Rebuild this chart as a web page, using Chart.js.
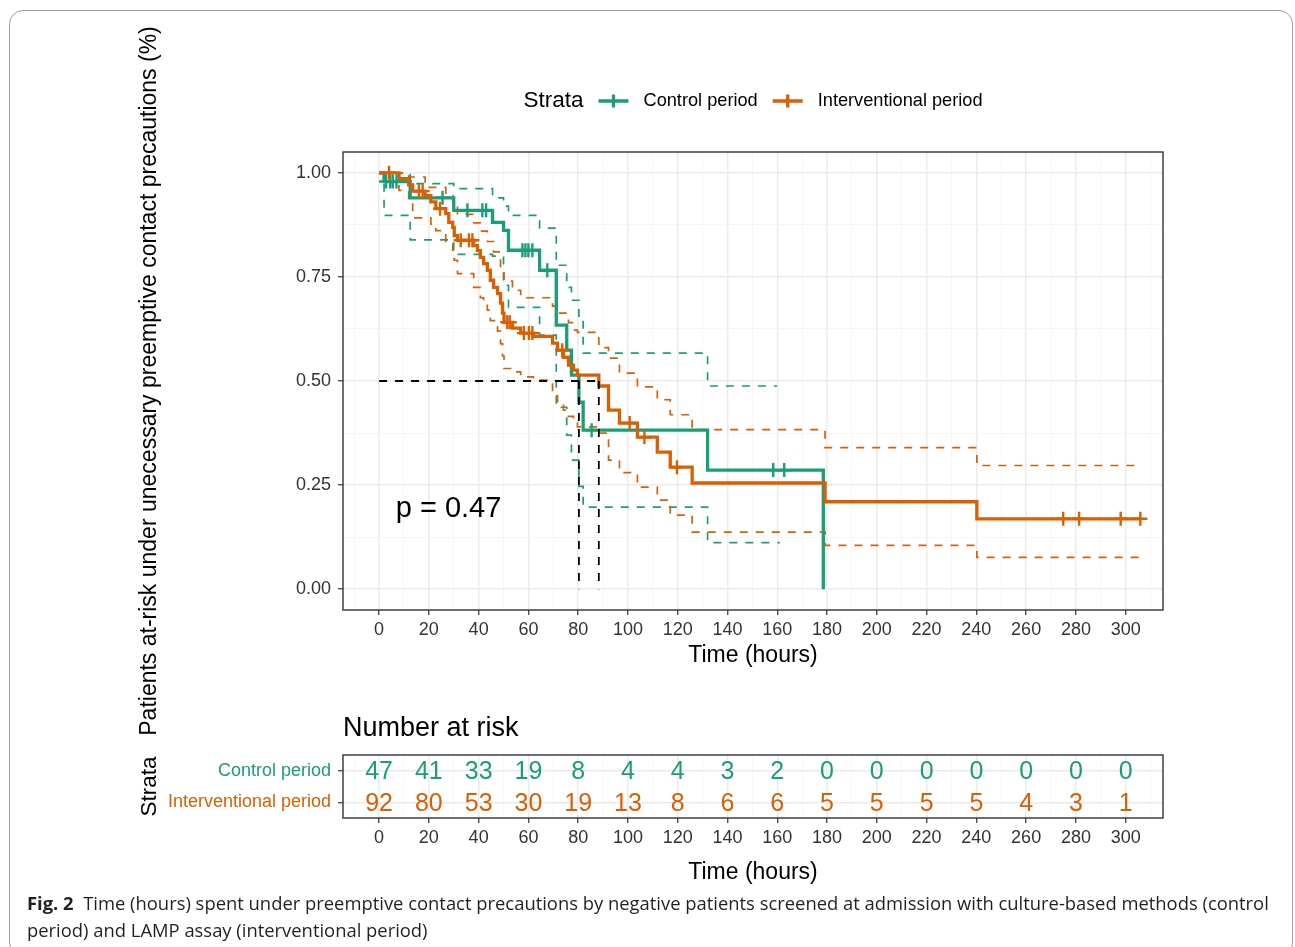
<!DOCTYPE html>
<html>
<head>
<meta charset="utf-8">
<title>Fig. 2</title>
<script src="https://cdn.jsdelivr.net/npm/chart.js@4.4.1/dist/chart.umd.min.js"></script>
<style>
  body { margin: 0; width: 1295px; height: 947px; overflow: hidden; background: #fff; position: relative; }
  #frame { position: absolute; left: 9px; top: 10px; width: 1282px; height: 945px; border: 1px solid #9d9d9d; border-radius: 14px; }
  #km { position: absolute; left: 0; top: 0; }
  #risk { position: absolute; left: 0; top: 690px; }
  #caption { position: absolute; left: 27px; top: 889px; font-family: "Open Sans", "Noto Sans", sans-serif; font-size: 18.4px; line-height: 27px; color: #231f20; white-space: nowrap; }
  #caption b { font-weight: 700; }
</style>
</head>
<body>
<div id="frame"></div>
<canvas id="km" width="1295" height="760"></canvas>
<canvas id="risk" width="1295" height="200"></canvas>
<div id="caption"><span id="cap1"><b>Fig. 2</b>&nbsp; Time (hours) spent under preemptive contact precautions by negative patients screened at admission with culture-based methods (control</span><br><span id="cap2">period) and LAMP assay (interventional period)</span></div>

<script>
// --- DATA ---
const strata = ['Control period', 'Interventional period'];
const strataColors = ['#1B9E77', '#D95F02'];

// Control period: Kaplan-Meier steps (time in hours, survival)
const ctrlTime = [0, 2.0, 12.5, 30, 45.6, 50, 52, 64.5, 71.2, 75.4, 77.3, 80.3, 82, 132, 178.5];
const ctrlSurv = [1, 0.979, 0.94, 0.910, 0.881, 0.862, 0.814, 0.766, 0.634, 0.574, 0.514, 0.449, 0.382, 0.286, 0];
const ctrlUpTime = [0, 12.5, 30, 45.6, 50, 52, 64.5, 71.2, 75.4, 77.3, 80.3, 82, 132, 160];
const ctrlUp = [1, 0.974, 0.962, 0.94, 0.92, 0.898, 0.867, 0.778, 0.725, 0.694, 0.653, 0.567, 0.488, 0.488];
const ctrlLoTime = [0, 2.0, 12.5, 30, 45.6, 50, 52, 64.5, 71.2, 75.4, 77.3, 80.3, 82, 132, 161];
const ctrlLo = [1, 0.898, 0.839, 0.804, 0.80, 0.73, 0.677, 0.61, 0.437, 0.37, 0.31, 0.247, 0.197, 0.112, 0.112];
const ctrlCensTime = [2.8, 4.5, 5.5, 7, 25.5, 35.5, 41.5, 43, 57.6, 58.8, 60, 61.6, 67.6, 85.4, 158.4, 162.8];
const ctrlCensSurv = [0.979, 0.979, 0.979, 0.979, 0.94, 0.910, 0.910, 0.910, 0.814, 0.814, 0.814, 0.814, 0.766, 0.382, 0.286, 0.286];

// Interventional period
const intvTime = [0, 8, 11.9, 13.5, 18.5, 20.8, 22.8, 26.8, 28, 29.6, 30.2, 31.5, 38, 39.5, 40.7, 42, 43.5, 44.7, 46, 47.6, 48.8, 49.6, 50.2, 53.6, 56.9, 62, 69.7, 71.7, 74.1, 76.1, 78.1, 79.7, 88.3, 92.2, 96.6, 103.8, 111.8, 117, 125.8, 179.2, 240.2, 305.9];
const intvSurv = [1, 0.986, 0.971, 0.956, 0.945, 0.930, 0.914, 0.902, 0.881, 0.869, 0.849, 0.838, 0.825, 0.813, 0.797, 0.782, 0.766, 0.742, 0.725, 0.710, 0.687, 0.663, 0.641, 0.627, 0.615, 0.607, 0.591, 0.574, 0.557, 0.538, 0.526, 0.514, 0.488, 0.430, 0.399, 0.365, 0.329, 0.293, 0.255, 0.210, 0.169, 0.169];
const intvUpTime = [0, 11.9, 18.5, 26.8, 29.6, 31.5, 38, 40.7, 43.5, 46, 48.8, 50.2, 53.6, 56.9, 69.7, 71.7, 76.1, 78.1, 79.7, 88.3, 92.2, 96.6, 103.8, 111.8, 117, 125.8, 179.2, 240.2, 305.9];
const intvUp = [1, 0.99, 0.965, 0.945, 0.92, 0.90, 0.88, 0.86, 0.835, 0.81, 0.77, 0.74, 0.718, 0.70, 0.68, 0.663, 0.64, 0.622, 0.617, 0.58, 0.555, 0.519, 0.486, 0.455, 0.419, 0.383, 0.34, 0.297, 0.297];
const intvLoTime = [0, 8, 11.9, 13.5, 20.8, 22.8, 26.8, 29.6, 30.2, 31.5, 38, 40.7, 42, 43.5, 44.7, 47.6, 48.8, 49.6, 50.2, 53.6, 56.9, 62, 69.7, 71.7, 74.1, 76.1, 78.1, 79.7, 88.3, 92.2, 96.6, 103.8, 111.8, 117, 125.8, 179.2, 240.2, 305.9];
const intvLo = [1, 0.958, 0.933, 0.892, 0.877, 0.861, 0.835, 0.81, 0.79, 0.758, 0.725, 0.70, 0.69, 0.67, 0.645, 0.62, 0.59, 0.56, 0.53, 0.522, 0.51, 0.502, 0.465, 0.445, 0.43, 0.415, 0.40, 0.39, 0.375, 0.31, 0.28, 0.245, 0.214, 0.178, 0.137, 0.105, 0.0766, 0.0766];
const intvCensTime = [4, 16, 17.5, 24.5, 32.8, 36.1, 37.5, 51.5, 52.5, 58.2, 60.2, 61.6, 73.6, 100.7, 106.6, 119.7, 274.9, 281.3, 298, 305.9];
const intvCensSurv = [1, 0.956, 0.956, 0.914, 0.838, 0.838, 0.838, 0.641, 0.641, 0.615, 0.615, 0.615, 0.574, 0.399, 0.365, 0.293, 0.169, 0.169, 0.169, 0.169];

// median survival times (control, interventional)
const medianTimes = [80.3, 88.3];
const pValueLabel = 'p = 0.47';

// number at risk table
const riskTimes = [0, 20, 40, 60, 80, 100, 120, 140, 160, 180, 200, 220, 240, 260, 280, 300];
const ctrlRisk = [47, 41, 33, 19, 8, 4, 4, 3, 2, 0, 0, 0, 0, 0, 0, 0];
const intvRisk = [92, 80, 53, 30, 19, 13, 8, 6, 6, 5, 5, 5, 5, 4, 3, 1];

// axis ticks
const timeTicks = [0, 20, 40, 60, 80, 100, 120, 140, 160, 180, 200, 220, 240, 260, 280, 300];
const timeGrid = [-10, 0, 10, 20, 30, 40, 50, 60, 70, 80, 90, 100, 110, 120, 130, 140, 150, 160, 170, 180, 190, 200, 210, 220, 230, 240, 250, 260, 270, 280, 290, 300, 310];
const survTicks = [0, 0.25, 0.5, 0.75, 1];
const survGrid = [0, 0.125, 0.25, 0.375, 0.5, 0.625, 0.75, 0.875, 1];

// --- STYLE ---
const FONT = '"Liberation Sans", Arial, Helvetica, sans-serif';
Chart.defaults.font.family = FONT;
Chart.defaults.color = '#333';

const pts = (t, s) => t.map((v, i) => ({ x: v, y: s[i] }));

function stepSet(t, s, color, width, dash, order) {
    return {
        data: pts(t, s), borderColor: color, borderWidth: width, borderDash: dash,
        stepped: 'before', pointRadius: 0, fill: false, order: order
    };
}
function censorSet(t, s, color, order) {
    return {
        data: pts(t, s), showLine: false, pointStyle: 'cross', pointRadius: 7,
        pointBorderWidth: 2.4, pointBorderColor: color, pointBackgroundColor: color, order: order
    };
}
function plainSet(data, order) {
    return { data: data, borderColor: '#000', borderWidth: 1.8, borderDash: [8, 8], pointRadius: 0, fill: false, order: order };
}

const isMajorTime = v => timeTicks.includes(v);

function timeAxis(titlePad, height) {
    return {
        type: 'linear', min: -14.5, max: 315,
        afterBuildTicks: s => { s.ticks = timeGrid.map(v => ({ value: v })); },
        afterFit: s => { s.height = height; },
        ticks: {
            autoSkip: false, maxRotation: 0, minRotation: 0, padding: 4, color: '#333',
            font: { size: 18 }, callback: v => isMajorTime(v) ? String(v) : ''
        },
        grid: {
            color: c => (c.tick && isMajorTime(c.tick.value)) ? '#EBEBEB' : '#F4F4F4',
            lineWidth: c => (c.tick && isMajorTime(c.tick.value)) ? 1.5 : 0.8,
            tickLength: 5, tickWidth: 1.2,
            tickColor: c => (c.tick && isMajorTime(c.tick.value)) ? '#333' : 'rgba(0,0,0,0)'
        },
        border: { display: false },
        title: { display: true, text: 'Time (hours)', color: '#000', font: { size: 23 }, padding: { top: 0, bottom: titlePad } }
    };
}

function drawPanelBorder(chart) {
    const { ctx, chartArea: a } = chart;
    ctx.save();
    ctx.strokeStyle = '#333';
    ctx.lineWidth = 1.4;
    ctx.strokeRect(a.left, a.top, a.right - a.left, a.bottom - a.top);
    ctx.restore();
}

function drawVerticalTitle(ctx, text, x, y, size) {
    ctx.save();
    ctx.translate(x, y);
    ctx.rotate(-Math.PI / 2);
    ctx.font = size + 'px ' + FONT;
    ctx.fillStyle = '#000';
    ctx.textAlign = 'center';
    ctx.textBaseline = 'middle';
    ctx.fillText(text, 0, 0);
    ctx.restore();
}

// --- KM PLOT ---
const kmDecor = {
    id: 'kmDecor',
    afterDraw(chart) {
        const { ctx, chartArea: a, scales } = chart;
        drawPanelBorder(chart);

        drawVerticalTitle(ctx, 'Patients at-risk under unecessary preemptive contact precautions (%)',
            a.left - 193, (a.top + a.bottom) / 2, 23);

        // p value
        ctx.save();
        ctx.font = '29px ' + FONT;
        ctx.fillStyle = '#000';
        ctx.textAlign = 'left';
        ctx.textBaseline = 'middle';
        ctx.fillText(pValueLabel, scales.x.getPixelForValue(6.7), scales.y.getPixelForValue(0.193));
        ctx.restore();

        // legend, centred over the panel
        ctx.save();
        const ly = 101, keyW = 30, gap = 15;
        ctx.font = '22.5px ' + FONT;
        const wTitle = ctx.measureText('Strata').width;
        ctx.font = '18.2px ' + FONT;
        const wItems = strata.map(s => ctx.measureText(s).width);
        const total = wTitle + strata.length * (gap + keyW + gap) + wItems.reduce((p, c) => p + c, 0);
        let x = (a.left + a.right) / 2 - total / 2;
        ctx.textBaseline = 'middle';
        ctx.fillStyle = '#000';
        ctx.font = '22.5px ' + FONT;
        ctx.fillText('Strata', x, ly);
        x += wTitle + gap;
        strata.forEach((s, i) => {
            ctx.strokeStyle = strataColors[i];
            ctx.lineWidth = 3.3;
            ctx.beginPath();
            ctx.moveTo(x, ly); ctx.lineTo(x + keyW, ly);
            ctx.moveTo(x + keyW / 2, ly - 6.5); ctx.lineTo(x + keyW / 2, ly + 6.5);
            ctx.stroke();
            x += keyW + gap;
            ctx.font = '18.2px ' + FONT;
            ctx.fillStyle = '#000';
            ctx.fillText(s, x, ly);
            x += wItems[i] + gap;
        });
        ctx.restore();
    }
};

const medianLevel = 0.5;
const kmChart = new Chart(document.getElementById('km'), {
    type: 'line',
    data: {
        datasets: [
            stepSet(ctrlLoTime, ctrlLo, strataColors[0], 1.7, [8, 8], 20),
            stepSet(ctrlUpTime, ctrlUp, strataColors[0], 1.7, [8, 8], 19),
            stepSet(intvLoTime, intvLo, strataColors[1], 1.7, [8, 8], 18),
            stepSet(intvUpTime, intvUp, strataColors[1], 1.7, [8, 8], 17),
            stepSet(ctrlTime, ctrlSurv, strataColors[0], 3.3, [], 12),
            stepSet(intvTime, intvSurv, strataColors[1], 3.3, [], 11),
            censorSet(ctrlCensTime, ctrlCensSurv, strataColors[0], 10),
            censorSet(intvCensTime, intvCensSurv, strataColors[1], 9),
            plainSet([{ x: 0, y: medianLevel }, { x: Math.max(...medianTimes), y: medianLevel }], 3),
            ...medianTimes.map((m, i) => plainSet([{ x: m, y: medianLevel }, { x: m, y: 0 }], 2 - i))
        ]
    },
    options: {
        responsive: false, animation: false, events: [],
        // bottom padding keeps the plot where it is while leaving room for the long y title
        layout: { padding: { left: 130, right: 132, top: 152, bottom: 70 } },
        plugins: { legend: { display: false }, tooltip: { enabled: false } },
        scales: {
            x: timeAxis(21, 80),
            y: {
                type: 'linear', min: -0.05, max: 1.05,
                afterBuildTicks: s => { s.ticks = survGrid.map(v => ({ value: v })); },
                afterFit: s => { s.width = 213; },
                ticks: { padding: 7, color: '#333', font: { size: 18 },
                    callback: v => survTicks.includes(v) ? v.toFixed(2) : '' },
                grid: {
                    color: c => (c.tick && survTicks.includes(c.tick.value)) ? '#EBEBEB' : '#F4F4F4',
                    lineWidth: c => (c.tick && survTicks.includes(c.tick.value)) ? 1.5 : 0.8,
                    tickLength: 5, tickWidth: 1.2,
                    tickColor: c => (c.tick && survTicks.includes(c.tick.value)) ? '#333' : 'rgba(0,0,0,0)'
                },
                border: { display: false }
            }
        }
    },
    plugins: [kmDecor]
});

// --- RISK TABLE ---
const riskRows = [ctrlRisk, intvRisk];
const riskDecor = {
    id: 'riskDecor',
    afterDraw(chart) {
        const { ctx, chartArea: a, scales } = chart;
        drawPanelBorder(chart);
        ctx.save();
        ctx.font = '27px ' + FONT;
        ctx.fillStyle = '#000';
        ctx.textAlign = 'left';
        ctx.textBaseline = 'middle';
        ctx.fillText('Number at risk', a.left, a.top - 26);

        ctx.font = '25px ' + FONT;
        ctx.textAlign = 'center';
        riskRows.forEach((row, r) => {
            ctx.fillStyle = strataColors[r];
            const y = scales.y.getPixelForValue(r);
            row.forEach((n, i) => {
                ctx.fillText(String(n), scales.x.getPixelForValue(riskTimes[i]), y + 1.5);
            });
        });
        ctx.restore();
        drawVerticalTitle(ctx, 'Strata', a.left - 193, (a.top + a.bottom) / 2, 22.5);
    }
};

const riskChart = new Chart(document.getElementById('risk'), {
    type: 'line',
    data: { datasets: [] },
    options: {
        responsive: false, animation: false, events: [],
        layout: { padding: { left: 130, right: 132, top: 65, bottom: 0 } },
        plugins: { legend: { display: false }, tooltip: { enabled: false } },
        scales: {
            x: timeAxis(4, 72),
            y: {
                type: 'category', labels: strata, offset: true,
                afterFit: s => { s.width = 213; },
                ticks: { padding: 7, font: { size: 18 }, color: c => strataColors[c.index] },
                grid: { offset: false, color: '#EBEBEB', lineWidth: 1.5, tickLength: 5, tickWidth: 1.2, tickColor: '#333' },
                border: { display: false }
            }
        }
    },
    plugins: [riskDecor]
});
</script>
</body>
</html>
